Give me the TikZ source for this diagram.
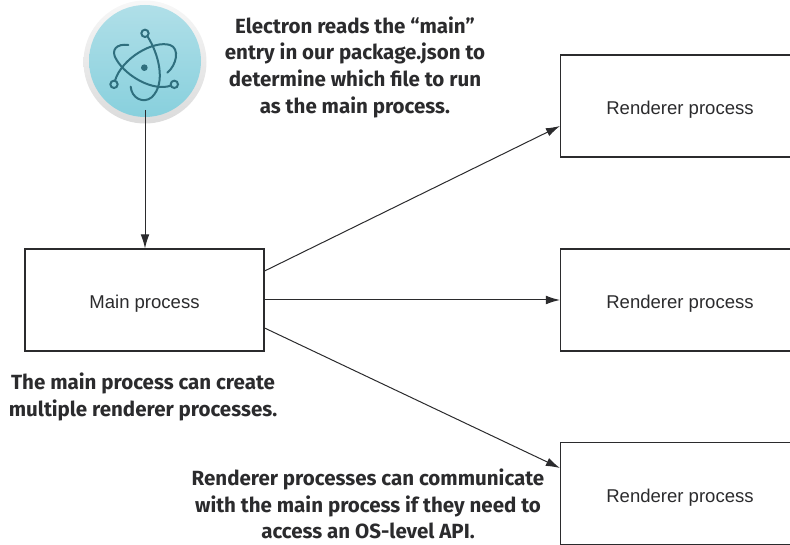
\documentclass[tikz,border=0pt]{standalone}
\usepackage{fontspec}
\setmainfont{Liberation Sans}
\newfontfamily\notefont{Fira Sans}
\usetikzlibrary{arrows.meta}
\definecolor{ink}{HTML}{2B2B2D}
\definecolor{atom}{HTML}{2F6F7E}
\definecolor{atomtop}{HTML}{B0DFE8}
\definecolor{atombot}{HTML}{88D0DD}
\tikzset{
  x=0.75pt,y=-0.75pt,
  procbox/.style={draw=ink,line width=0.85pt,fill=white,minimum width=179.25pt,minimum height=76.5pt,inner sep=0pt,font=\fontsize{13.9pt}{15pt}\selectfont,text=ink,text height=13pt,text depth=0pt},
  conn/.style={draw=ink,line width=0.75pt,-{Latex[length=10.5pt,width=6.5pt]}},
  note/.style={font=\notefont\bfseries\fontsize{15.4pt}{20pt}\selectfont,text=ink,align=center,inner sep=0pt},
  orbit/.style={draw=atom,line width=1.5pt,line cap=round},
}
\begin{document}
\begin{tikzpicture}
\useasboundingbox (0,0) rectangle (790,545);
% icon
\shade[top color=black!3,bottom color=black!14] (145,62) circle [radius=61.5];
\shade[top color=atomtop,bottom color=atombot] (145,61) circle [radius=56];
\begin{scope}[shift={(60,0)},x=0.25pt,y=-0.25pt]
  \fill[atom] (253,203) circle [radius=10];
  \draw[orbit] (255,100) circle [radius=11];
  \draw[orbit] (162,253) circle [radius=11];
  \draw[orbit] (343,253) circle [radius=11];
  \draw[orbit] (263,110) .. controls (295,160) and (320,250) .. (275,292) .. controls (250,312) and (215,295) .. (212,260);
  \draw[orbit] (165,242) .. controls (185,175) and (280,120) .. (330,135) .. controls (360,145) and (350,195) .. (322,218);
  \draw[orbit] (332,257) .. controls (280,275) and (200,230) .. (170,180) .. controls (150,150) and (170,130) .. (205,135);
\end{scope}
% boxes
\node[procbox] (main) at (144.5,300) {Main process};
\node[procbox] (r1) at (680,106) {Renderer process};
\node[procbox] (r2) at (680,300) {Renderer process};
\node[procbox] (r3) at (680,493.5) {Renderer process};
\coordinate (iconbase) at (145,110);
\coordinate (m1) at (main.east |- 0,271);
\coordinate (m3) at (main.east |- 0,328);
\coordinate (r1in) at (r1.west |- 0,126);
\coordinate (r3in) at (r3.west |- 0,468);
\draw[conn] (iconbase) -- (main.north -| iconbase);
\draw[conn] (m1) -- (r1in);
\draw[conn] (main.east) -- (r2.west);
\draw[conn] (m3) -- (r3in);
% notes
\node[note] (n1) at (355,67) {Electron reads the “main”\\entry in our package.json to\\determine which file to run\\as the main process.};
\node[note] (n2) at (143,397) {The main process can create\\multiple renderer processes.};
\node[note] (n3) at (368,504) {Renderer processes can communicate\\with the main process if they need to\\access an OS-level API.};
\end{tikzpicture}
\end{document}
